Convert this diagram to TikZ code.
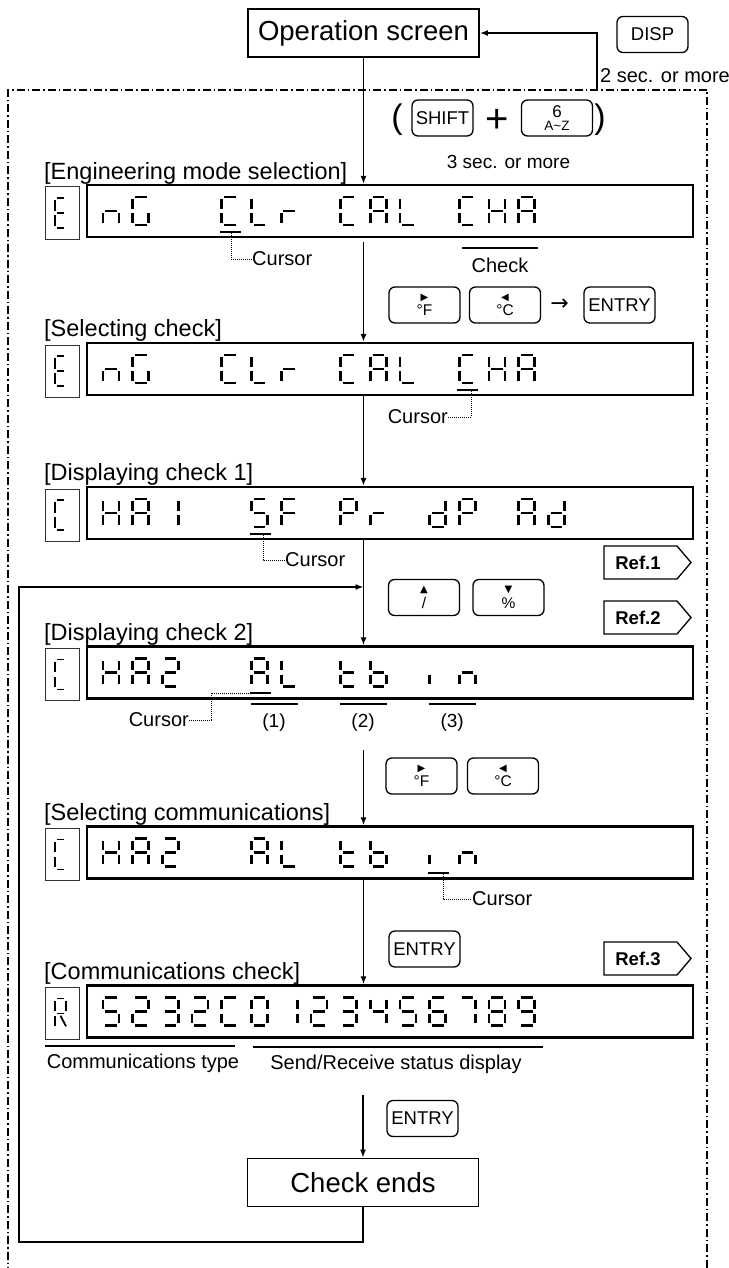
\documentclass[tikz,border=0pt]{standalone}
\usepackage{fontspec}
\setmainfont{Liberation Sans}
\newfontfamily\symf{DejaVu Sans}
\usetikzlibrary{arrows.meta,calc}
\newcommand{\fs}[1]{\fontsize{#1}{#1}\selectfont}
% seven segment characters
\newcommand{\defseg}[2]{\expandafter\def\csname seg#1\endcsname{#2}}
\defseg{n}{c,e,g}\defseg{G}{a,c,d,e,f}\defseg{C}{a,d,e,f}\defseg{L}{d,e,f}
\defseg{r}{e,g}\defseg{A}{a,b,c,e,f,g}\defseg{H}{b,c,e,f,g}\defseg{F}{a,e,f,g}
\defseg{P}{a,b,e,f,g}\defseg{d}{b,c,d,e,g}\defseg{t}{d,e,f,g}\defseg{b}{c,d,e,f,g}
\defseg{i}{e}\defseg{E}{a,d,e,f,g}\defseg{R}{a,b,e,f,g,k}
\defseg{0}{a,b,c,d,e,f}\defseg{1}{b,c}\defseg{2}{a,b,d,e,g}\defseg{3}{a,b,c,d,g}
\defseg{4}{b,c,f,g}\defseg{5}{a,c,d,f,g}\defseg{6}{a,c,d,e,f,g}\defseg{7}{a,b,c}
\defseg{8}{a,b,c,d,e,f,g}\defseg{9}{a,b,c,d,f,g}
\def\sgp{2.2}
\tikzset{
  sga/.code={\draw (\sgp,0) -- (\gw-\sgp,0);},
  sgb/.code={\draw (\gw,\sgp) -- (\gw,\gh/2-\sgp);},
  sgc/.code={\draw (\gw,\gh/2+\sgp) -- (\gw,\gh-\sgp);},
  sgd/.code={\draw (\sgp,\gh) -- (\gw-\sgp,\gh);},
  sge/.code={\draw (0,\gh/2+\sgp) -- (0,\gh-\sgp);},
  sgf/.code={\draw (0,\sgp) -- (0,\gh/2-\sgp);},
  sgg/.code={\draw (\sgp,\gh/2) -- (\gw-\sgp,\gh/2);},
  sgk/.code={\draw (\gw/2,\gh/2+\sgp) -- (\gw,\gh-\sgp);}
}
\newcommand{\glyph}[6][]{%
  \begin{scope}[shift={(#2,#3)},#1]
    \def\gw{#5}\def\gh{#6}%
    \edef\seglist{\csname seg#4\endcsname}%
    \foreach \s in \seglist {\edef\tmp{\noexpand\tikzset{sg\s}}\tmp}%
  \end{scope}}
\newcommand{\lcd}[2]{\foreach \i/\ch in {#2}{\glyph[line width=2.7pt]{103+29.7*\i}{#1}{\ch}{16}{28}}}
\newcommand{\cursor}[2]{\draw[curline] (101+29.7*#1,#2) -- (122+29.7*#1,#2);}
\newcommand{\reftag}[3]{%
  \draw[line width=1.3pt] (#2) -- ++(73,0) -- ++(14,16.5) -- ++(-14,16.5) -- ++(-73,0) -- cycle;
  \node[reftxt] (#1) at ($(#2)+(34,17)$) {#3};}
\newcommand{\kl}[2]{{\symf\fs{10}#1}\\{#2}}

\begin{document}
\begin{tikzpicture}[x=1pt,y=-1pt,>={Latex[length=8pt,width=6pt]},
  arr/.style={->,line width=1.5pt},
  scrbox/.style={draw,line width=1.8pt,minimum width=231pt,minimum height=48pt,inner sep=0pt,font=\fs{27.5}},
  lcdbox/.style={draw,line width=2.2pt,minimum width=606pt,minimum height=52pt,inner sep=0pt},
  lbox/.style={draw,black!80,line width=1pt,minimum width=34pt,minimum height=52pt,inner sep=0pt},
  key/.style={draw,rounded corners=6pt,line width=1.3pt,minimum width=71pt,minimum height=36pt,inner sep=0pt,align=center,font=\fs{18.5}},
  key2/.style={key,font=\fs{15.5}},
  head/.style={anchor=base west,inner sep=0pt,font=\fs{23.5}},
  lbl/.style={inner sep=0pt,font=\fs{20}},
  reftxt/.style={inner sep=0pt,font=\bfseries\fs{18.5}},
  curline/.style={line width=2.2pt},
  bar/.style={line width=1.8pt},
  lead/.style={line width=0.9pt,dash pattern=on 1pt off 1pt},
  dashdot/.style={line width=1.2pt,dash pattern=on 8pt off 3pt on 1.5pt off 3pt}]
\useasboundingbox (0,0) rectangle (728,1268);
\draw[dashdot] (8,1275) |- (707,90) -- (707,1275);

% top
\node[scrbox] (op) at (363.5,33) {Operation screen};
\node[key] (kdisp) at (652.5,34.5) {DISP};
\node[lbl,anchor=base west] (twosec) at (600,83) {2 sec. or more};
\coordinate (ret) at (597,90);
\draw[arr] (ret) |- (op.east);
\node[inner sep=0pt,font=\fs{34}] (lpar) at (397,120) {(};
\node[key,minimum width=61pt] (kshift) at (442.5,118) {SHIFT};
\node[inner sep=0pt,font=\fs{40}] (plus) at (497,121) {+};
\node[key,font=\fs{13.5}] (ksix) at (557,118) {{\fs{17}6}\\[0pt]A\textasciitilde Z};
\node[inner sep=0pt,font=\fs{34}] (rpar) at (600,120) {)};
\node[lbl,font=\fs{19}] (threesec) at (508.5,162) {3 sec. or more};

% engineering mode selection
\node[head] (h1) at (44,180) {[Engineering mode selection]};
\node[lcdbox] (d1) at (390,211) {};
\node[lbox] (s1) at (62,213) {};
\glyph[line width=1.8pt]{55}{198}{E}{11}{30}
\lcd{197}{0/n,1/G,4/C,5/L,6/r,8/C,9/A,10/L,12/C,13/H,14/A}
\cursor{4}{232}
\coordinate (c1) at (231,233);
\node[lbl,anchor=west] (cur1) at (252,259) {Cursor};
\draw[lead] (c1) |- (cur1.west);
\node[lbl] (chk) at (500,265) {Check};
\draw[bar] (462,248) -- (538,248);
\node[key2] (kf1) at (424.5,305) {\kl{▶}{°F}};
\node[key2] (kc1) at (505,305) {\kl{◀}{°C}};
\node[inner sep=0pt,font=\symf\fs{22}] (to1) at (559.5,305) {→};
\node[key] (ke1) at (619.5,305) {ENTRY};

% selecting check
\node[head] (h2) at (44,336) {[Selecting check]};
\node[lcdbox] (d2) at (390,369) {};
\node[lbox] (s2) at (62,371) {};
\glyph[line width=1.8pt]{55}{356}{E}{11}{30}
\lcd{355}{0/n,1/G,4/C,5/L,6/r,8/C,9/A,10/L,12/C,13/H,14/A}
\cursor{12}{390}
\coordinate (c2) at (471,391);
\node[lbl,anchor=east] (cur2) at (448,417) {Cursor};
\draw[lead] (c2) |- (cur2.east);

% displaying check 1
\node[head] (h3) at (44,480) {[Displaying check 1]};
\node[lcdbox] (d3) at (390,513) {};
\node[lbox] (s3) at (62,515) {};
\glyph[line width=1.8pt]{55}{500}{C}{11}{30}
\lcd{499}{0/H,1/A,2/1,5/5,6/F,8/P,9/r,11/d,12/P,14/A,15/d}
\cursor{5}{534}
\coordinate (c3) at (263,535);
\node[lbl,anchor=west] (cur3) at (285,560) {Cursor};
\draw[lead] (c3) |- (cur3.west);
\reftag{ref1}{604,546}{Ref.1}
\node[key2] (kup) at (424,597.5) {\kl{▲}{/}};
\node[key2] (kdn) at (508.5,597.5) {\kl{▼}{\%}};
\reftag{ref2}{604,601}{Ref.2}

% displaying check 2
\node[head] (h4) at (44,640) {[Displaying check 2]};
\node[lcdbox] (d4) at (390,672.5) {};
\node[lbox] (s4) at (62,674.5) {};
\glyph[line width=1.8pt]{55}{659.5}{C}{11}{30}
\lcd{658.5}{0/H,1/A,2/2,5/A,6/L,8/t,9/b,11/i,12/n}
\cursor{5}{693}
\coordinate (c4) at (249,693);
\node[lbl,anchor=east] (cur4) at (189,720) {Cursor};
\draw[lead] (c4) -- (211,693) |- (cur4.east);
\foreach \i/\n in {5/1,8/2,11/3}{
  \draw[bar] (102+29.7*\i,704) -- (149+29.7*\i,704);
  \node[lbl,font=\fs{19}] (num\n) at (125.5+29.7*\i,723) {(\n)};
}
\node[key2] (kf2) at (421.5,776) {\kl{▶}{°F}};
\node[key2] (kc2) at (503,776) {\kl{◀}{°C}};

% selecting communications
\node[head] (h5) at (44,820) {[Selecting communications]};
\node[lcdbox] (d5) at (390,852.5) {};
\node[lbox] (s5) at (62,854.5) {};
\glyph[line width=1.8pt]{55}{839.5}{C}{11}{30}
\lcd{838.5}{0/H,1/A,2/2,5/A,6/L,8/t,9/b,11/i,12/n}
\cursor{11}{873}
\coordinate (c5) at (443,874);
\node[lbl,anchor=west] (cur5) at (472,899) {Cursor};
\draw[lead] (c5) |- (cur5.west);
\node[key] (ke2) at (424.5,949) {ENTRY};
\reftag{ref3}{604,942}{Ref.3}

% communications check
\node[head] (h6) at (44,979) {[Communications check]};
\node[lcdbox] (d6) at (390,1011.5) {};
\node[lbox] (s6) at (62,1013.5) {};
\glyph[line width=1.8pt]{55}{998.5}{R}{11}{30}
\lcd{997.5}{0/5,1/2,2/3,3/2,4/C,5/0,6/1,7/2,8/3,9/4,10/5,11/6,12/7,13/8,14/9}
\draw[bar] (45,1046) -- (235,1046);
\node[lbl] (ctype) at (143,1063) {Communications type};
\draw[bar] (253,1047) -- (543,1047);
\node[lbl] (srstat) at (396,1064) {Send/Receive status display};
\node[key] (ke3) at (422.5,1118.5) {ENTRY};
\node[scrbox] (ends) at (363,1182.5) {Check ends};

% flow
\coordinate (a2) at (363.5,242);
\coordinate (a5) at (363.5,750);
\coordinate (a7) at (363,1095);
\coordinate (lb) at (19,1242);
\coordinate (lj) at (363.5,587);
\draw[arr] (op.south) -- (op.south |- d1.north);
\draw[arr] (a2) -- (a2 |- d2.north);
\draw[arr] (op.south |- d2.south) -- (op.south |- d3.north);
\draw[arr] (op.south |- d3.south) -- (op.south |- d4.north);
\draw[arr] (a5) -- (a5 |- d5.north);
\draw[arr] (op.south |- d5.south) -- (op.south |- d6.north);
\draw[arr] (a7) -- (ends.north);
\draw[arr] (ends.south) |- (lb) |- (lj);
\end{tikzpicture}
\end{document}
